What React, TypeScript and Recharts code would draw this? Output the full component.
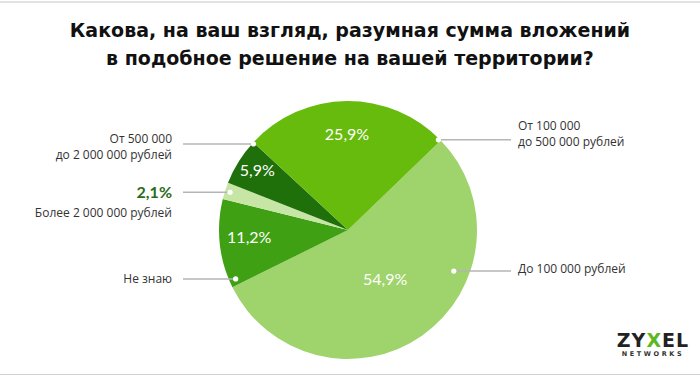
import React from 'react';
import { PieChart, Pie, Cell } from 'recharts';

// Survey answers, clockwise from the upper-right boundary
const answers = [
  'До 100 000 рублей',
  'Не знаю',
  'Более 2 000 000 рублей',
  'От 500 000\nдо 2 000 000 рублей',
  'От 100 000\nдо 500 000 рублей',
];
const shares = [54.9, 11.2, 2.1, 5.9, 25.9];

const COLORS = ['#9fd36b', '#40a014', '#c7e6a6', '#1f700b', '#67bb0c'];

const data = answers.map((name, i) => ({ name, value: shares[i] }));

// where each callout dot sits inside its slice (fraction of the arc, fraction of the radius),
// which side its text goes to, and how the text sits against the dot
const CALLOUT = [
  { at: 0.33, r: 0.88, side: 'right', dy: -2, inR: 0.5 },
  { at: 0.07, r: 0.95, side: 'left', dy: 0, inR: 0.77 },
  { at: 0.5, r: 0.96, side: 'left', dy: 0, inR: 0 },
  { at: 0.98, r: 0.99, side: 'left', dy: -5, inR: 0.83 },
  { at: 0.99, r: 0.99, side: 'right', dy: -14, inR: 0.72 },
];

const RAD = Math.PI / 180;
const fmt = (v: number) => v.toFixed(1).replace('.', ',') + '%';
const LABEL_FONT = '"Open Sans", "DejaVu Sans", sans-serif';
const PCT_FONT = 'Lato, "Open Sans", sans-serif';

const renderLabel = (props: any) => {
  const { cx, cy, outerRadius, startAngle, endAngle, midAngle, index, value } = props;
  const c = CALLOUT[index];
  const a = startAngle + c.at * (endAngle - startAngle);
  const dr = outerRadius * c.r;
  const dx = cx + dr * Math.cos(-a * RAD);
  const dyy = cy + dr * Math.sin(-a * RAD);
  const left = c.side === 'left';
  const lineEnd = left ? 183 : 511;
  const textX = left ? 172 : 518;
  const lines = answers[index].split('\n');
  const small = value < 3;
  const ir = outerRadius * c.inR;
  const ix = cx + ir * Math.cos(-midAngle * RAD);
  const iy = cy + ir * Math.sin(-midAngle * RAD) - 3;
  const ty = dyy + c.dy + (small ? 21 : 0);
  return (
    <g key={`lbl-${index}`}>
      <line x1={lineEnd} y1={dyy} x2={dx} y2={dyy} stroke="#b5b5b5" strokeWidth={1.5} />
      <circle cx={dx} cy={dyy} r={2.6} fill="#ffffff" />
      {small ? (
        <text x={textX} y={dyy} dy="0.35em" textAnchor="end" fill="#2d6b1a"
          fontFamily={PCT_FONT} fontSize={16} fontWeight={700}>{fmt(value)}</text>
      ) : (
        <text x={ix} y={iy} dy="0.35em" textAnchor="middle" fill="#ffffff"
          fontFamily={PCT_FONT} fontSize={16}>{fmt(value)}</text>
      )}
      <text x={textX} y={ty} textAnchor={left ? 'end' : 'start'} fill="#333333"
        fontFamily={LABEL_FONT} fontSize={12}>
        {lines.map((l, k) => (
          <tspan key={k} x={textX} dy={k === 0 ? '0.35em' : '1.35em'}>{l}</tspan>
        ))}
      </text>
    </g>
  );
};

export default function App() {
  return (
    <div style={{ position: 'relative', width: 700, height: 376, background: '#ffffff', overflow: 'hidden' }}>
      <style>{`body{margin:0}`}</style>
      <div style={{ position: 'absolute', left: 0, top: 1, width: 700, height: 0, borderTop: '2px solid #e2e2e2' }} />
      <div style={{ position: 'absolute', left: 0, top: 374, width: 700, height: 0, borderTop: '1px solid #d0d0d0' }} />
      <div style={{
        position: 'absolute', left: 0, top: 16, width: 700, textAlign: 'center',
        fontFamily: '"DejaVu Sans", sans-serif', fontWeight: 700, fontSize: 19, lineHeight: '28px', color: '#111111',
      }}>
        Какова, на ваш взгляд, разумная сумма вложений
        <br />
        в подобное решение на вашей территории?
      </div>
      <PieChart width={700} height={376} style={{ position: 'absolute', left: 0, top: 0 }}>
        <Pie
          data={data}
          dataKey="value"
          nameKey="name"
          cx={343}
          cy={225}
          outerRadius={129}
          startAngle={44}
          endAngle={-316}
          stroke="none"
          label={renderLabel}
          labelLine={false}
          isAnimationActive={false}
        >
          {data.map((entry, i) => (
            <Cell key={`cell-${i}`} fill={COLORS[i]} />
          ))}
        </Pie>
      </PieChart>
      <div style={{ position: 'absolute', left: 612, top: 330, width: 82, textAlign: 'center', fontFamily: '"DejaVu Sans", sans-serif' }}>
        <div style={{ fontSize: 19, fontWeight: 700, color: '#222222', letterSpacing: 1, lineHeight: '20px' }}>
          ZY<span style={{ color: '#5cb81e' }}>X</span>EL
        </div>
        <div style={{ fontSize: 6.5, fontWeight: 700, color: '#333333', letterSpacing: 2.6, lineHeight: '9px' }}>
          NETWORKS
        </div>
      </div>
    </div>
  );
}
